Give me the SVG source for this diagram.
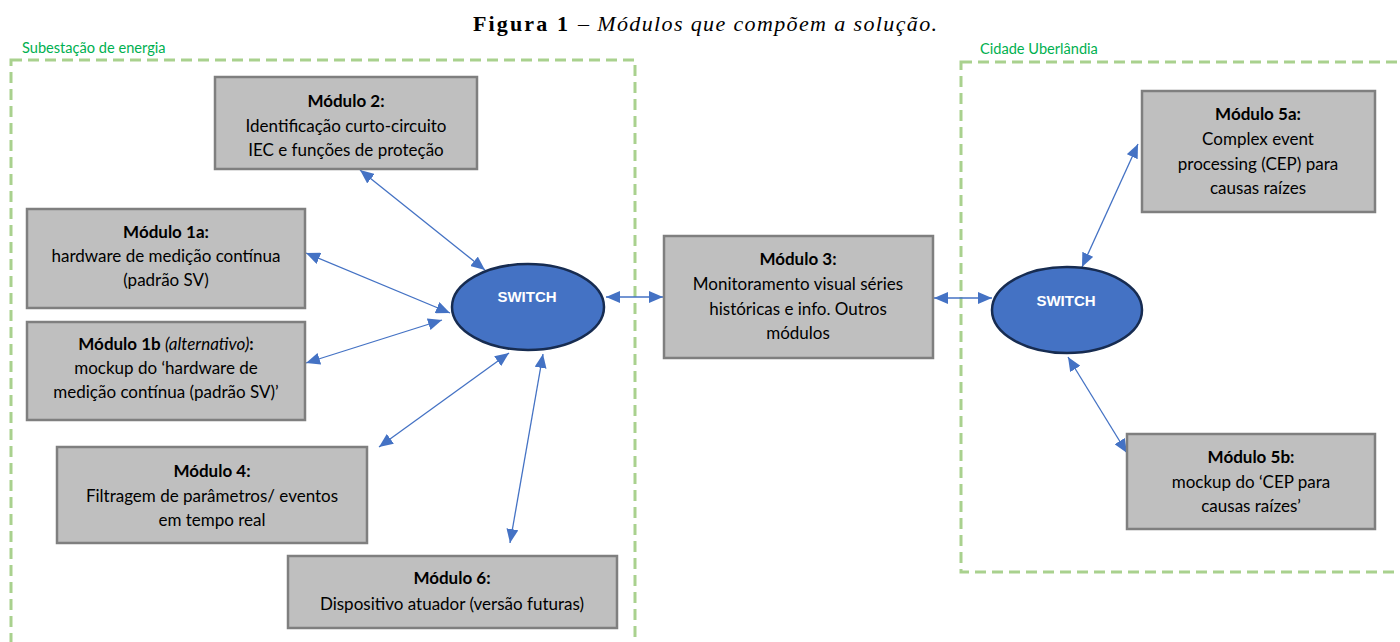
<svg xmlns="http://www.w3.org/2000/svg" width="1400" height="642" viewBox="0 0 1400 642">
<style>
.box{fill:#BFBFBF;stroke:#7F7F7F;stroke-width:2.5}
.t{font-family:Lato,"Liberation Sans",sans-serif;font-size:17px;fill:#000;text-anchor:middle}
.b{font-weight:bold}
.zone{fill:none;stroke:#A9D18E;stroke-width:3;stroke-dasharray:11 6}
.zl{font-family:Lato,"Liberation Sans",sans-serif;font-size:14.6px;fill:#00B050}
.sw{fill:#4472C4;stroke:#172C51;stroke-width:2.5}
.swt{font-family:"Liberation Sans",Arial,sans-serif;font-size:15px;font-weight:bold;fill:#fff;text-anchor:middle}
.c{stroke:#4472C4;stroke-width:1.3;fill:none;marker-start:url(#ah);marker-end:url(#ah)}
</style>
<defs>
<marker id="ah" viewBox="0 0 14 12" refX="14" refY="6" markerWidth="14" markerHeight="12" markerUnits="userSpaceOnUse" orient="auto-start-reverse">
<path d="M0,0 L14,6 L0,12 Z" fill="#4472C4"/>
</marker>
</defs>
<rect width="1400" height="642" fill="#fff"/>
<g id="title">
<text x="473" y="31" font-family="'Liberation Serif',serif" font-size="22" font-weight="bold" textLength="95" lengthAdjust="spacing">Figura 1</text>
<text x="578" y="31" font-family="'Liberation Serif',serif" font-size="22" font-style="italic" textLength="359" lengthAdjust="spacing">– Módulos que compõem a solução.</text>
</g>
<g id="zone-subestacao">
<rect class="zone" x="11" y="60" width="624" height="620"/>
<text class="zl" x="22" y="53">Subestação de energia</text>
</g>
<g id="zone-cidade">
<rect class="zone" x="961" y="62" width="480" height="510"/>
<text class="zl" x="980" y="54">Cidade Uberlândia</text>
</g>
<g id="connectors">
<line class="c" x1="360" y1="170" x2="485" y2="270"/>
<line class="c" x1="306" y1="253" x2="450" y2="313"/>
<line class="c" x1="306" y1="363" x2="442" y2="320"/>
<line class="c" x1="379" y1="447" x2="509" y2="353"/>
<line class="c" x1="510" y1="543" x2="543" y2="354"/>
<line class="c" x1="606" y1="297" x2="663" y2="297"/>
<line class="c" x1="934" y1="298" x2="992" y2="298"/>
<line class="c" x1="1138" y1="144" x2="1082" y2="267"/>
<line class="c" x1="1068" y1="357" x2="1127" y2="453"/>
</g>
<g id="switch1">
<ellipse class="sw" cx="528" cy="307" rx="76" ry="43"/>
<text class="swt" x="527" y="302">SWITCH</text>
</g>
<g id="switch2">
<ellipse class="sw" cx="1067" cy="310" rx="75" ry="43"/>
<text class="swt" x="1066" y="306">SWITCH</text>
</g>
<g id="modulo2">
<rect class="box" x="215" y="77" width="262" height="92"/>
<text class="t b" x="346" y="107">Módulo 2:</text>
<text class="t" x="346" y="132">Identificação curto-circuito</text>
<text class="t" x="346" y="156">IEC e funções de proteção</text>
</g>
<g id="modulo1a">
<rect class="box" x="27" y="209" width="278" height="99"/>
<text class="t b" x="166" y="238">Módulo 1a:</text>
<text class="t" x="166" y="262">hardware de medição contínua</text>
<text class="t" x="166" y="286">(padrão SV)</text>
</g>
<g id="modulo1b">
<rect class="box" x="27" y="322" width="278" height="98"/>
<text class="t" x="166" y="350"><tspan font-weight="bold">Módulo 1b </tspan><tspan font-style="italic">(alternativo)</tspan><tspan font-weight="bold">:</tspan></text>
<text class="t" x="166" y="374">mockup do ‘hardware de</text>
<text class="t" x="166" y="398">medição contínua (padrão SV)’</text>
</g>
<g id="modulo4">
<rect class="box" x="57" y="447" width="310" height="96"/>
<text class="t b" x="212" y="477">Módulo 4:</text>
<text class="t" x="212" y="502">Filtragem de parâmetros/ eventos</text>
<text class="t" x="212" y="526">em tempo real</text>
</g>
<g id="modulo6">
<rect class="box" x="288" y="556" width="329" height="72"/>
<text class="t b" x="452" y="584">Módulo 6:</text>
<text class="t" x="452" y="610">Dispositivo atuador (versão futuras)</text>
</g>
<g id="modulo3">
<rect class="box" x="664" y="236" width="269" height="122"/>
<text class="t b" x="798" y="265">Módulo 3:</text>
<text class="t" x="798" y="290">Monitoramento visual séries</text>
<text class="t" x="798" y="315">históricas e info. Outros</text>
<text class="t" x="798" y="339">módulos</text>
</g>
<g id="modulo5a">
<rect class="box" x="1142" y="91" width="233" height="121"/>
<text class="t b" x="1258" y="120">Módulo 5a:</text>
<text class="t" x="1258" y="145">Complex event</text>
<text class="t" x="1258" y="170">processing (CEP) para</text>
<text class="t" x="1258" y="194">causas raízes</text>
</g>
<g id="modulo5b">
<rect class="box" x="1127" y="434" width="248" height="95"/>
<text class="t b" x="1251" y="463">Módulo 5b:</text>
<text class="t" x="1251" y="488">mockup do ‘CEP para</text>
<text class="t" x="1251" y="512">causas raízes’</text>
</g>
</svg>
